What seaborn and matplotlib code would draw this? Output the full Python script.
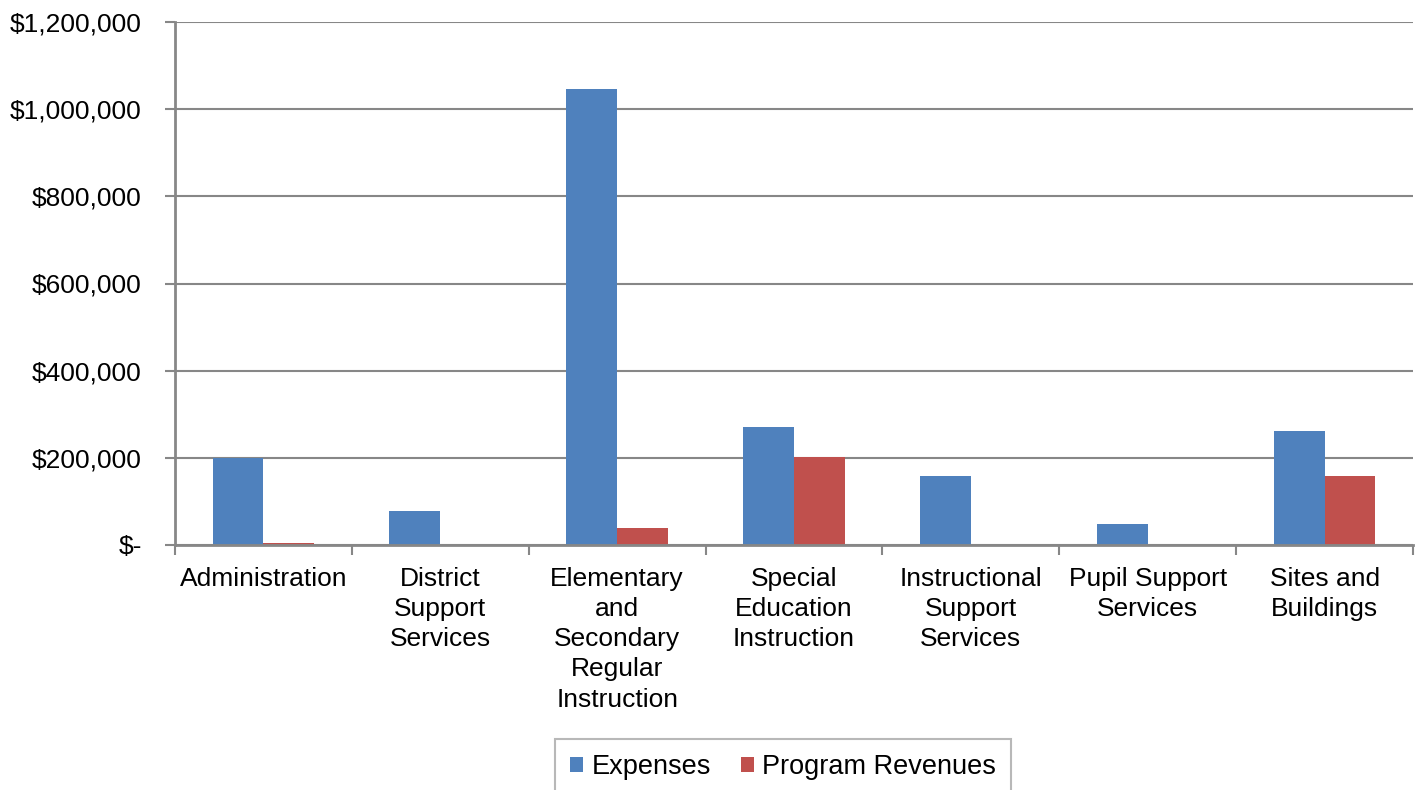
import numpy as np
import pandas as pd
import matplotlib
matplotlib.use('Agg')
import matplotlib.pyplot as plt
from matplotlib.ticker import FuncFormatter, FixedLocator
import seaborn as sns

# Chart data
categories = ['Administration', 'District Support Services',
              'Elementary and Secondary Regular Instruction',
              'Special Education Instruction', 'Instructional Support Services',
              'Pupil Support Services', 'Sites and Buildings']
tick_labels = ['Administration', 'District\nSupport\nServices',
               'Elementary\nand\nSecondary\nRegular\nInstruction',
               'Special\nEducation\nInstruction', 'Instructional\nSupport\nServices',
               'Pupil Support\nServices', 'Sites and\nBuildings']
expenses = [199000, 77000, 1047000, 271000, 159000, 48000, 262000]
program_revenues = [5500, 0, 39000, 201000, 0, 0, 159000]
series_names = ['Expenses', 'Program Revenues']
y_ticks = [0, 200000, 400000, 600000, 800000, 1000000, 1200000]

df = pd.DataFrame({
    'category': categories * 2,
    'value': expenses + program_revenues,
    'series': [series_names[0]] * len(categories) + [series_names[1]] * len(categories),
})

sns.set_style('white')
plt.rcParams['font.family'] = ['Liberation Sans', 'DejaVu Sans']
plt.rcParams['text.color'] = 'black'
plt.rcParams['xtick.color'] = 'black'
plt.rcParams['ytick.color'] = 'black'

grey = '#878787'
fig = plt.figure(figsize=(14.21, 7.90), dpi=100)
ax = fig.add_axes([175 / 1421, 1 - 545 / 790, (1413 - 175) / 1421, (545 - 22) / 790])

sns.barplot(data=df, x='category', y='value', hue='series', order=categories,
            hue_order=series_names, palette=['#4F81BD', '#C0504D'],
            width=0.575, gap=0, linewidth=0, saturation=1, errorbar=None, ax=ax)

ax.set_xlim(-0.5, len(categories) - 0.5)
ax.set_ylim(0, 1200000)
ax.set_yticks(y_ticks)
ax.yaxis.set_major_formatter(FuncFormatter(lambda v, p: '$-' if v == 0 else '${:,.0f}'.format(v)))
ax.grid(axis='y', color=grey, linewidth=1.5)
ax.set_axisbelow(True)

ax.set_xticks(range(len(categories)))
ax.set_xticklabels(tick_labels, linespacing=1.32, va='top', ha='center')
ax.xaxis.set_minor_locator(FixedLocator(np.arange(-0.5, len(categories), 1.0)))
ax.tick_params(axis='x', which='major', bottom=True, length=0, pad=16, labelsize=19,
               labelcolor='black')
ax.tick_params(axis='x', which='minor', bottom=True, length=7, width=1.5, color=grey,
               direction='out')
ax.tick_params(axis='y', left=True, length=7, width=1.5, color=grey, direction='out',
               pad=17, labelsize=19, labelcolor='black')
ax.set_xlabel('')
ax.set_ylabel('')

for side in ['top', 'right']:
    ax.spines[side].set_visible(False)
for side in ['left', 'bottom']:
    ax.spines[side].set_color(grey)
    ax.spines[side].set_linewidth(2)

handles, labels = ax.get_legend_handles_labels()
ax.get_legend().remove()
leg = fig.legend(handles, labels, loc='upper center', bbox_to_anchor=(783 / 1421, 1 - 739 / 790),
                 ncol=2, fontsize=19.5, frameon=True, fancybox=False, handlelength=0.5,
                 handleheight=0.5, handletextpad=0.3, columnspacing=1.1,
                 borderpad=0.55, borderaxespad=0)
leg.get_frame().set_edgecolor('#A6A6A6')
leg.get_frame().set_linewidth(1.5)
for t in leg.get_texts():
    t.set_color('black')

fig.savefig('out.png', dpi=100)
